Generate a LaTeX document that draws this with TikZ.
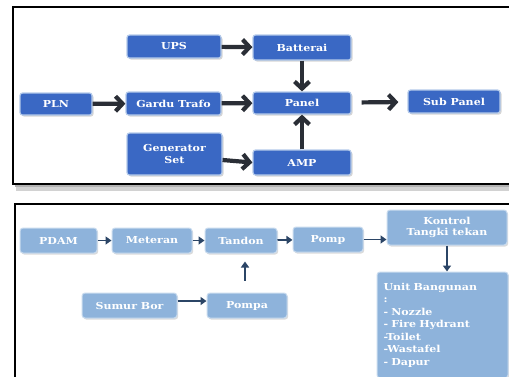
\documentclass[tikz,border=0pt]{standalone}
\usepackage{fontspec}
\setmainfont{DejaVu Serif}
\newfontfamily\boxfont{DejaVu Serif Bold}[FakeStretch=1.15]
\usetikzlibrary{arrows.meta,shadows}
\definecolor{topblue}{HTML}{3A68C4}
\definecolor{topglow}{HTML}{B4CAEA}
\definecolor{botblue}{HTML}{8EB3DB}
\definecolor{botedge}{HTML}{C9DBEE}
\definecolor{toparrow}{HTML}{2A2E36}
\definecolor{botarrow}{HTML}{2B4566}
\tikzset{
  topbox/.style={rectangle, rounded corners=2.5pt, fill=topblue, draw=topglow, line width=1.2pt,
    text=white, font=\boxfont\fontsize{9.6}{12.5}\selectfont, inner sep=0pt, align=center,
    drop shadow={shadow xshift=1.5pt, shadow yshift=-1.5pt, fill=gray!45, opacity=0.7}},
  botbox/.style={rectangle, rounded corners=3pt, fill=botblue, draw=botedge, line width=1pt,
    text=white, font=\boxfont\fontsize{9.6}{12.5}\selectfont, inner sep=0pt, align=center,
    drop shadow={shadow xshift=1.2pt, shadow yshift=-1.5pt, fill=gray!40, opacity=0.7}},
  toparr/.style={draw=toparrow, line width=4.2pt, -{Straight Barb[length=7pt,width=15pt]}},
  botarr/.style={draw=botarrow, line width=1.8pt, -{Triangle[length=6pt,width=8pt]}},
  frame/.style={draw=black, line width=2.6pt}
}
\begin{document}
\begin{tikzpicture}[x=1pt,y=-1pt]
\useasboundingbox (0,0) rectangle (509,376);
\clip (0,0) rectangle (509,376);
\fill[white] (0,0) rectangle (509,376);
% top frame with shadow
\draw[gray!35, line width=5pt] (16,188) -- (530,188);
\draw[gray!60, line width=2.5pt] (15,186) -- (530,186);
\draw[frame] (13,7) rectangle (530,184);
% bottom frame
\draw[frame, line width=2.2pt] (15,204) rectangle (530,400);

% top nodes
\node[topbox, minimum width=94pt, minimum height=23pt] (ups) at (174,46.5) {UPS};
\node[topbox, minimum width=98pt, minimum height=25pt] (bat) at (302,47.5) {Batterai};
\node[topbox, minimum width=72pt, minimum height=22pt] (pln) at (56,104) {PLN};
\node[topbox, minimum width=95pt, minimum height=23pt] (gardu) at (173.5,103.5) {Gardu Trafo};
\node[topbox, minimum width=98pt, minimum height=22pt] (panel) at (302,103) {Panel};
\node[topbox, minimum width=92pt, minimum height=23pt] (sub) at (454,101.5) {Sub Panel};
\node[topbox, minimum width=95pt, minimum height=42pt] (gen) at (174.5,154) {Generator\\Set};
\node[topbox, minimum width=98pt, minimum height=25pt] (amp) at (302,162.5) {AMP};

% top arrows
\draw[toparr] (ups) -- (bat);
\draw[toparr] (pln) -- (gardu);
\draw[toparr] (gardu) -- (panel);
\draw[toparr, shorten <=10pt, shorten >=9pt] (panel) -- (sub);
\draw[toparr] (bat) -- (panel);
\draw[toparr] (amp) -- (panel);
\draw[toparr] (gen.east |- 0,160) -- (amp.west);

% bottom nodes
\node[botbox, minimum width=77pt, minimum height=25pt] (pdam) at (58.5,240.5) {PDAM};
\node[botbox, minimum width=80pt, minimum height=25pt] (met) at (152,240.5) {Meteran};
\node[botbox, minimum width=72pt, minimum height=25pt] (tan) at (241,240.5) {Tandon};
\node[botbox, minimum width=70pt, minimum height=25pt] (pomp) at (328,239.5) {Pomp};
\node[botbox, minimum width=120pt, minimum height=35pt, font=\boxfont\fontsize{9.6}{10.5}\selectfont] (kon) at (447,227.5) {Kontrol\\Tangki tekan};
\node[botbox, minimum width=131pt, minimum height=106pt, text width=118pt, align=left] (unit) at (442.5,325)
  {Unit Bangunan\\:\\- Nozzle\\- Fire Hydrant\\-Toilet\\-Wastafel\\- Dapur};
\node[botbox, minimum width=95pt, minimum height=25pt] (sumur) at (129.5,305.5) {Sumur Bor};
\node[botbox, minimum width=80pt, minimum height=25pt] (pompa) at (247,305.5) {Pompa};

% bottom arrows
\draw[botarr] (pdam) -- (met);
\draw[botarr] (met) -- (tan);
\draw[botarr] (tan) -- (pomp);
\draw[botarr] (pomp.east) -- (kon.west |- pomp.east);
\draw[botarr] (kon.south -| 447,0) -- (unit.north -| 447,0);
\draw[botarr] (sumur.east |- 0,301) -- (pompa.west |- 0,301);
\draw[botarr, shorten <=12pt, shorten >=8pt] (pompa.north -| 245,0) -- (tan.south -| 245,0);
\end{tikzpicture}
\end{document}
